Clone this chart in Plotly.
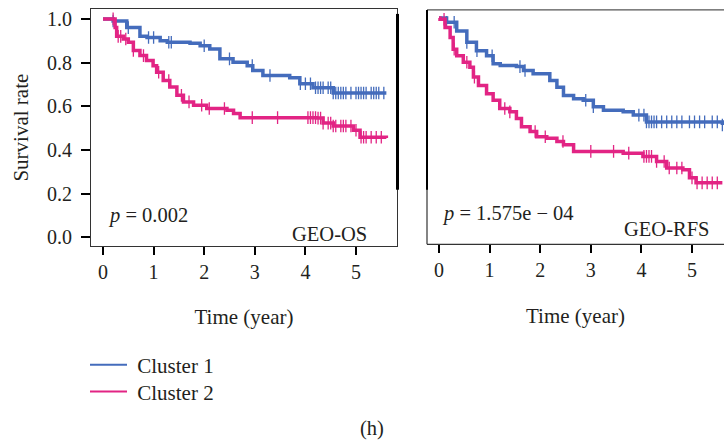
import plotly.graph_objects as go

# ---------------- data ----------------
os_c1_t = [0, 0.2, 0.47, 0.73, 0.87, 1.13, 1.27, 1.72, 1.92, 2.11, 2.31, 2.57, 2.85, 2.96, 3.16, 3.69, 3.89, 4.15, 4.55, 5.6]
os_c1_s = [1.0, 0.99, 0.96, 0.92, 0.915, 0.90, 0.893, 0.888, 0.877, 0.862, 0.817, 0.801, 0.786, 0.764, 0.741, 0.731, 0.703, 0.685, 0.661, 0.661]
os_c2_t = [0, 0.14, 0.24, 0.27, 0.40, 0.50, 0.60, 0.73, 0.86, 0.99, 1.06, 1.19, 1.32, 1.46, 1.59, 1.79, 2.05, 2.45, 2.58, 2.71, 4.22, 4.35, 4.55, 4.95, 5.08, 5.6]
os_c2_s = [1.0, 1.0, 0.96, 0.92, 0.908, 0.893, 0.855, 0.832, 0.809, 0.786, 0.756, 0.718, 0.688, 0.650, 0.620, 0.605, 0.59, 0.582, 0.567, 0.548, 0.546, 0.523, 0.51, 0.49, 0.458, 0.455]

rfs_c1_t = [0, 0.15, 0.35, 0.55, 0.74, 0.94, 1.07, 1.21, 1.53, 1.67, 1.86, 2.19, 2.33, 2.46, 2.66, 2.85, 3.05, 3.25, 3.64, 3.84, 4.1, 5.6]
rfs_c1_s = [1.0, 0.98, 0.94, 0.888, 0.85, 0.827, 0.79, 0.782, 0.777, 0.759, 0.744, 0.714, 0.683, 0.645, 0.63, 0.623, 0.593, 0.577, 0.57, 0.555, 0.524, 0.51]
rfs_c2_t = [0, 0.02, 0.12, 0.22, 0.28, 0.35, 0.48, 0.61, 0.68, 0.78, 0.94, 1.07, 1.2, 1.4, 1.53, 1.63, 1.8, 1.93, 2.13, 2.33, 2.46, 2.66, 3.64, 4.03, 4.3, 4.5, 4.82, 4.95, 5.08, 5.6]
rfs_c2_s = [1.0, 0.994, 0.956, 0.91, 0.857, 0.827, 0.797, 0.774, 0.729, 0.691, 0.653, 0.623, 0.585, 0.57, 0.54, 0.502, 0.48, 0.456, 0.449, 0.434, 0.419, 0.389, 0.381, 0.366, 0.343, 0.313, 0.305, 0.268, 0.245, 0.245]

os_c1_cens = [0.2, 0.5, 0.9, 1.0, 1.3, 1.35, 2.0, 2.5, 2.95, 3.3, 3.9, 4.0, 4.1, 4.2, 4.25, 4.3, 4.35, 4.45, 4.5, 4.55, 4.6, 4.65,
              4.7, 4.75, 4.8, 4.9, 5.0, 5.05, 5.1, 5.15, 5.2, 5.3, 5.35, 5.4, 5.45, 5.55]
os_c2_cens = [0.2, 0.3, 0.35, 0.45, 0.6, 0.8, 1.1, 1.3, 1.55, 1.7, 1.95, 2.1, 2.4, 2.95, 3.45, 4.05, 4.1, 4.15, 4.2, 4.25, 4.3,
              4.35, 4.45, 4.5, 4.55, 4.6, 4.7, 4.75, 4.8, 4.9, 5.0, 5.1, 5.15, 5.2, 5.3, 5.4, 5.5]
rfs_c1_cens = [0.15, 0.3, 0.55, 0.75, 1.05, 1.6, 1.7, 2.9, 3.05, 3.95, 4.05, 4.1, 4.15, 4.2, 4.25, 4.3, 4.4, 4.5, 4.6, 4.7,
               4.8, 4.95, 5.05, 5.15, 5.25, 5.4, 5.5, 5.6]
rfs_c2_cens = [0.1, 0.3, 0.55, 0.7, 1.3, 1.4, 1.9, 2.1, 2.45, 3.0, 3.45, 3.75, 4.05, 4.1, 4.15, 4.2, 4.3, 4.45, 4.55, 4.7,
               4.8, 5.0, 5.1, 5.2, 5.3, 5.4, 5.5]

x_ticks = [0, 1, 2, 3, 4, 5]
y_ticks = [0.0, 0.2, 0.4, 0.6, 0.8, 1.0]
y_tick_labels = ["0.0", "0.2", "0.4", "0.6", "0.8", "1.0"]
series_names = ["Cluster 1", "Cluster 2"]
p_texts = ["<i>p</i> = 0.002", "<i>p</i> = 1.575e \u2212 04"]
panel_labels = ["GEO-OS", "GEO-RFS"]

BLUE = "rgb(68,108,188)"
PINK = "rgb(226,36,132)"
FONT = "Liberation Serif"
TXT = "#231f20"
W, H = 724, 443


def step_value(ts, ss, t):
    v = ss[0]
    for ti, si in zip(ts, ss):
        if ti <= t:
            v = si
        else:
            break
    return v


fig = go.Figure()

panels = [
    ("x", "y", [(os_c1_t, os_c1_s, os_c1_cens, BLUE), (os_c2_t, os_c2_s, os_c2_cens, PINK)]),
    ("x2", "y2", [(rfs_c1_t, rfs_c1_s, rfs_c1_cens, BLUE), (rfs_c2_t, rfs_c2_s, rfs_c2_cens, PINK)]),
]
for pi, (xa, ya, series) in enumerate(panels):
    for si, (ts, ss, cens, col) in enumerate(series):
        fig.add_trace(go.Scatter(x=ts, y=ss, mode="lines", line=dict(color=col, width=3.5, shape="hv"),
                                 xaxis=xa, yaxis=ya, showlegend=False))
        fig.add_trace(go.Scatter(x=cens, y=[step_value(ts, ss, c) for c in cens], mode="markers",
                                 marker=dict(symbol="line-ns", size=9, line=dict(color=col, width=1.3)),
                                 xaxis=xa, yaxis=ya, showlegend=False))

# legend entries (thin lines as in the reference legend), one legend box per entry
legend_ids = ["legend", "legend2"]
for si, col in enumerate([BLUE, PINK]):
    fig.add_trace(go.Scatter(x=[None], y=[None], mode="lines", line=dict(color=col, width=2),
                             name=" " + series_names[si], showlegend=True, legend=legend_ids[si]))


def px_x(p):
    return p / W


def px_y(p):
    return 1 - p / H


axis_common = dict(showgrid=False, zeroline=False, linecolor="#333", linewidth=1.2,
                   tickfont=dict(family=FONT, size=20, color=TXT))
title_font = dict(family=FONT, size=21, color=TXT)
legend_common = dict(xanchor="left", yanchor="top", bgcolor="rgba(0,0,0,0)",
                     font=dict(family=FONT, size=21, color=TXT), itemwidth=37)

fig.update_layout(
    width=W, height=H, margin=dict(l=0, r=0, t=0, b=0),
    paper_bgcolor="white", plot_bgcolor="white",
    font=dict(family=FONT, size=18, color=TXT),
    xaxis=dict(domain=[px_x(91), px_x(397)], range=[(91 - 103) / 50.6, (397 - 103) / 50.6],
               tickvals=x_ticks, ticks="outside", ticklen=8, tickwidth=2, tickcolor="black",
               showline=True, mirror=True,
               title=dict(text="Time (year)", standoff=26, font=title_font), **axis_common),
    yaxis=dict(domain=[px_y(247), px_y(8)], range=[(238 - 247) / 220, (238 - 8) / 220],
               tickvals=y_ticks, ticktext=y_tick_labels, ticks="outside", ticklen=9, tickwidth=2,
               tickcolor="black", showline=True, mirror=True, ticklabelstandoff=5,
               title=dict(text="Survival rate", standoff=12, font=title_font), **axis_common),
    xaxis2=dict(domain=[px_x(427), 1.0], range=[(427 - 439) / 50.6, (724 - 439) / 50.6],
                tickvals=x_ticks, ticks="outside", ticklen=8, tickwidth=2, tickcolor="black",
                showline=False, anchor="y2",
                title=dict(text="Time (year)", standoff=27, font=title_font), **axis_common),
    yaxis2=dict(domain=[px_y(245), px_y(9)], range=[(237 - 245) / 220, (237 - 9) / 220],
                showticklabels=False, ticks="", showline=False, anchor="x2", **axis_common),
    legend=dict(x=px_x(85), y=px_y(346), **legend_common),
    legend2=dict(x=px_x(85), y=px_y(373), **legend_common),
)

# right panel box (left, top, bottom borders)
fig.add_shape(type="line", xref="x2 domain", yref="y2 domain", x0=0, x1=0, y0=0, y1=1,
              line=dict(color="#333", width=1.2))
fig.add_shape(type="line", xref="x2 domain", yref="y2 domain", x0=0, x1=1, y0=1, y1=1,
              line=dict(color="#555", width=1.2))
fig.add_shape(type="line", xref="x2 domain", yref="y2 domain", x0=0, x1=1, y0=0, y1=0,
              line=dict(color="#333", width=1.2))
# thick dark bars seen at the panel edges
fig.add_shape(type="line", xref="paper", yref="paper", x0=px_x(397.5), x1=px_x(397.5), y0=px_y(190), y1=px_y(13),
              line=dict(color="black", width=3))
fig.add_shape(type="line", xref="paper", yref="paper", x0=px_x(427), x1=px_x(427), y0=px_y(190), y1=px_y(9),
              line=dict(color="black", width=2))

ann = [
    dict(text=p_texts[0], x=px_x(106), y=px_y(216), xanchor="left", yanchor="middle"),
    dict(text=panel_labels[0], x=px_x(369), y=px_y(235), xanchor="right", yanchor="middle"),
    dict(text=p_texts[1], x=px_x(440), y=px_y(214), xanchor="left", yanchor="middle"),
    dict(text=panel_labels[1], x=px_x(711), y=px_y(230), xanchor="right", yanchor="middle"),
    dict(text="(h)", x=px_x(372), y=px_y(430), xanchor="center", yanchor="middle"),
]
for a in ann:
    fig.add_annotation(xref="paper", yref="paper", showarrow=False,
                       font=dict(family=FONT, size=20.5, color=TXT), **a)

fig.write_html("out.html")
